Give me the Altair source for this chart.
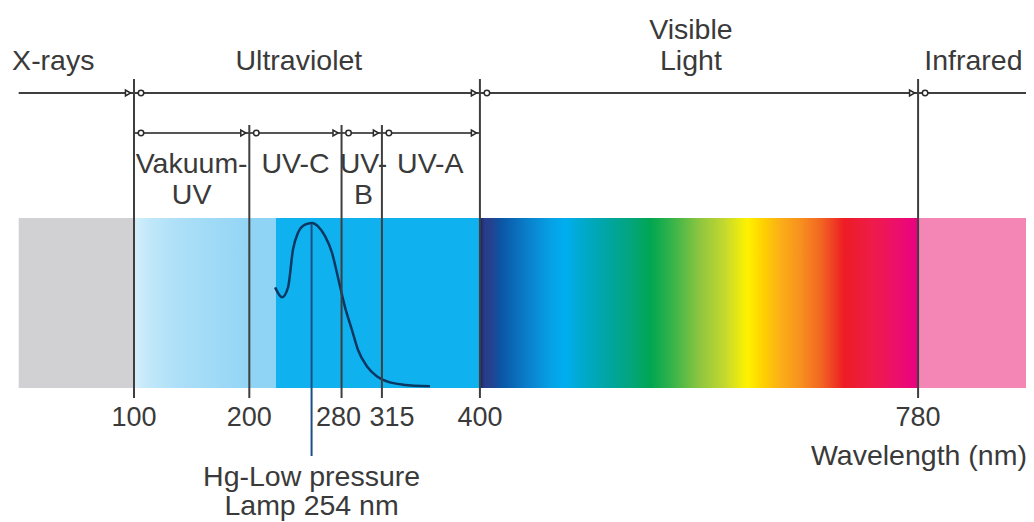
import altair as alt
import pandas as pd

# ---------------- data (wavelengths in nm) ----------------
major_bounds = [100, 400, 780]          # X-ray | UV | Visible | IR
uv_bounds = [200, 280, 315]             # Vakuum-UV | UV-C | UV-B | UV-A
lamp_nm = 254
spectrum_end = 877

tick_values = [100, 200, 280, 315, 400, 780]
tick_dx = [0, 0, -3, 10, 0, 0]

top_labels = ["X-rays", "Ultraviolet", "Visible\nLight", "Infrared"]
top_label_nm = [30, 243, 583, 828]
uv_labels = ["Vakuum-\nUV", "UV-C", "UV-\nB", "UV-A"]
uv_label_nm = [150, 240, 299, 357]

solid_start = [0, 200, 223, 780]
solid_end = [100, 223, 400, spectrum_end]
solid_color = ["#d1d0d3", "#8fd4f5", "#0fb2ef", "#f386b5"]

vac_stop_nm = [100, 112, 135, 175, 200]
vac_stop_color = ["#d6f0fb", "#c2e8f9", "#afe0f8", "#9dd9f6", "#93d5f6"]

vis_stop_nm = [400, 404, 410, 418, 440, 462, 474, 492, 512, 532, 548,
               566, 590, 612, 632, 646, 660, 678, 696, 716, 740, 762, 780]
vis_stop_color = ["#14275f", "#2a3a8b", "#24438f", "#0b55a4", "#0a7dc9",
                  "#06a2e6", "#00aeef", "#00a9c6", "#00a5a0", "#03a57a",
                  "#00a651", "#33b34a", "#8cc540", "#c3d82f", "#fff200",
                  "#fed000", "#fbb017", "#f7901e", "#f26522", "#ed1c24",
                  "#ee1c48", "#ec0f6c", "#ea0080"]

lamp_curve_nm = [222.4, 228.4, 233.6, 237.9, 242.2, 248.3, 254.4, 259.6,
                 265.7, 271.7, 276.9, 283.0, 289.1, 294.3, 302.1, 310.8,
                 319.4, 333.3, 356.7]
lamp_curve_rel = [0.61, 0.55, 0.61, 0.84, 0.94, 0.99, 1.0, 0.98, 0.92,
                  0.82, 0.67, 0.49, 0.35, 0.23, 0.13, 0.07, 0.04, 0.02, 0.01]

# ---------------- layout ----------------
W, H = 1018, 514
FONT = "Liberation Sans"
FS = 28.5
FS_TICK = 27
TXT = "#3a3a3a"
LINE = "#3f3f3f"
LH = 31

xs = alt.Scale(domain=[-9.28, 873.6], nice=False, zero=False)
X = lambda f: alt.X(f, type="quantitative", scale=xs, axis=None)

band_top, band_bot = 210, 380


def grad(nms, cols):
    lo, hi = nms[0], nms[-1]
    return alt.Gradient(
        gradient="linear", x1=0, x2=1, y1=0, y2=0,
        stops=[alt.GradientStop(offset=(n - lo) / (hi - lo), color=c)
               for n, c in zip(nms, cols)])


solid_df = pd.DataFrame({"a": solid_start, "b": solid_end, "c": solid_color})
solid = alt.Chart(solid_df).mark_rect().encode(
    x=X("a"), x2="b", y=alt.value(band_top), y2=alt.value(band_bot),
    color=alt.Color("c:N", scale=None))

vac = alt.Chart(pd.DataFrame({"a": [vac_stop_nm[0]], "b": [vac_stop_nm[-1]]})).mark_rect(
    fill=grad(vac_stop_nm, vac_stop_color)).encode(
    x=X("a"), x2="b", y=alt.value(band_top), y2=alt.value(band_bot))

vis = alt.Chart(pd.DataFrame({"a": [vis_stop_nm[0]], "b": [vis_stop_nm[-1]]})).mark_rect(
    fill=grad(vis_stop_nm, vis_stop_color)).encode(
    x=X("a"), x2="b", y=alt.value(band_top), y2=alt.value(band_bot))

curve_df = pd.DataFrame({"nm": lamp_curve_nm, "rel": lamp_curve_rel,
                         "i": range(len(lamp_curve_nm))})
curve = alt.Chart(curve_df).mark_line(color="#0b3763", strokeWidth=2.5,
                                      interpolate="monotone").encode(
    x=X("nm"),
    y=alt.Y("rel:Q", scale=alt.Scale(domain=[0, 1], range=[380, 215]), axis=None),
    order="i:Q")

# horizontal lines
top_line = alt.Chart(pd.DataFrame({"a": [0], "b": [spectrum_end]})).mark_rule(
    color=LINE, strokeWidth=2).encode(x=X("a"), x2="b", y=alt.value(85))
uv_line = alt.Chart(pd.DataFrame({"a": [major_bounds[0]], "b": [major_bounds[1]]})).mark_rule(
    color="#555555", strokeWidth=2).encode(x=X("a"), x2="b", y=alt.value(125))

# vertical boundary lines
major_rules = alt.Chart(pd.DataFrame({"nm": major_bounds})).mark_rule(
    color=LINE, strokeWidth=2).encode(x=X("nm"), y=alt.value(71), y2=alt.value(390))
uv_rules = alt.Chart(pd.DataFrame({"nm": uv_bounds})).mark_rule(
    color=LINE, strokeWidth=2).encode(x=X("nm"), y=alt.value(117), y2=alt.value(390))
lamp_rule = alt.Chart(pd.DataFrame({"nm": [lamp_nm]})).mark_rule(
    color="#1d4f86", strokeWidth=2).encode(x=X("nm"), y=alt.value(216), y2=alt.value(448))

# small end markers on the range lines
left_top = major_bounds
right_top = major_bounds
left_uv = uv_bounds + [major_bounds[1]]
right_uv = [major_bounds[0]] + uv_bounds


def markers(vals, y, off, shape, size):
    return alt.Chart(pd.DataFrame({"nm": vals})).mark_point(
        shape=shape, size=size, fill="white", fillOpacity=1, stroke="#2a2a2a",
        strokeWidth=1.5, xOffset=off).encode(x=X("nm"), y=alt.value(y))


mk = [markers(left_top, 85, -6, "triangle-right", 34), markers(right_top, 85, 7, "circle", 30),
      markers(left_uv, 125, -6, "triangle-right", 34), markers(right_uv, 125, 7, "circle", 30)]

# texts
text_kw = dict(font=FONT, color=TXT, lineBreak="\n", lineHeight=LH)

# top labels: anchored on their last line
top_df = pd.DataFrame({"nm": top_label_nm, "t": top_labels})
top_df["n"] = top_df.t.str.count("\n") + 1
top_txt = alt.layer(*[
    alt.Chart(top_df[top_df.n == n]).mark_text(
        baseline="alphabetic", align="center", fontSize=FS, **text_kw).encode(
        x=X("nm"), y=alt.value(62 - LH * (n - 1)), text="t:N")
    for n in sorted(top_df.n.unique())])

uv_txt = alt.Chart(pd.DataFrame({"nm": uv_label_nm, "t": uv_labels})).mark_text(
    baseline="alphabetic", align="center", fontSize=FS, **text_kw).encode(
    x=X("nm"), y=alt.value(165), text="t:N")

tick_df = pd.DataFrame({"nm": tick_values, "t": [str(v) for v in tick_values],
                        "dx": tick_dx})
tick_txt = alt.layer(*[
    alt.Chart(tick_df[tick_df.dx == d]).mark_text(
        baseline="alphabetic", align="center", dx=d, fontSize=FS_TICK, **text_kw).encode(
        x=X("nm"), y=alt.value(418), text="t:N")
    for d in sorted(set(tick_dx))])

axis_title = alt.Chart(pd.DataFrame({"nm": [spectrum_end], "t": ["Wavelength (nm)"]})).mark_text(
    baseline="alphabetic", align="right", dx=-3, fontSize=FS, **text_kw).encode(
    x=X("nm"), y=alt.value(457), text="t:N")
lamp_txt = alt.Chart(pd.DataFrame({"nm": [lamp_nm], "t": ["Hg-Low pressure\nLamp 254 nm"]})).mark_text(
    baseline="alphabetic", align="center", lineBreak="\n", lineHeight=29,
    font=FONT, fontSize=FS, color=TXT).encode(
    x=X("nm"), y=alt.value(478), text="t:N")

chart = alt.layer(
    solid, vac, vis, curve, top_line, uv_line, major_rules, uv_rules, lamp_rule,
    *mk, top_txt, uv_txt, tick_txt, axis_title, lamp_txt
).properties(
    width=W, height=H, padding=0, autosize=alt.AutoSizeParams(type="none"),
    background="white"
).configure_view(stroke=None)

chart.save("out.html", embed_options={"renderer": "svg", "actions": False})
